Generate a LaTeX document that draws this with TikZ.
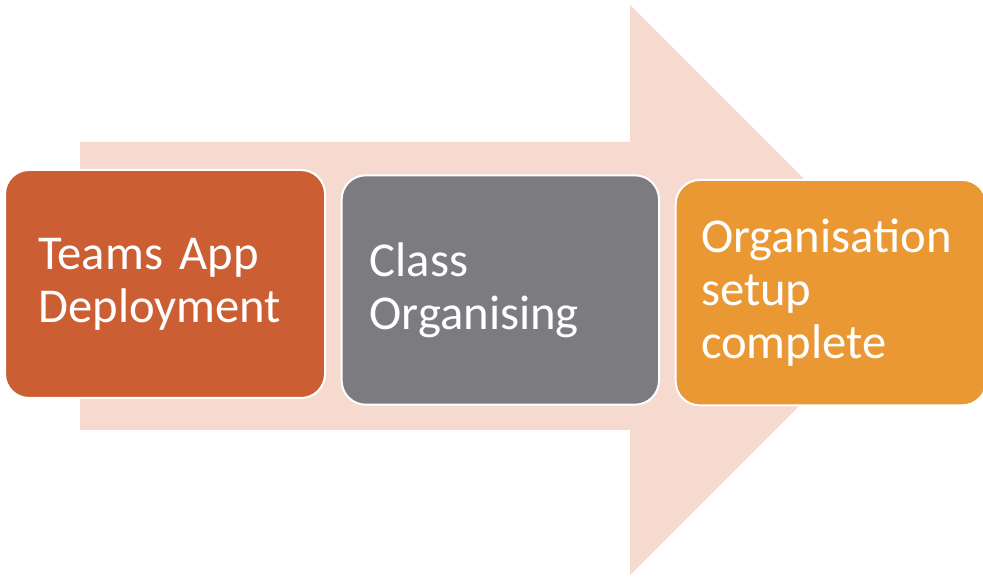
\documentclass[tikz,border=0pt]{standalone}
\usepackage{fontspec}
\setmainfont{Carlito}
\usepackage{xcolor}
\usetikzlibrary{positioning}

\definecolor{arrowpink}{RGB}{246,218,208}
\definecolor{teamsred}{RGB}{204,94,52}
\definecolor{classgray}{RGB}{124,124,128}
\definecolor{setuporange}{RGB}{234,152,52}

\begin{document}
\begin{tikzpicture}[x=0.75pt, y=-0.75pt, every node/.style={align=left, text=white, font=\fontsize{36.5}{40}\selectfont},
        stage/.style={rectangle, rounded corners=18pt, draw=white, line width=1.5pt}]
        \useasboundingbox (0,0) rectangle (983,577);
        % big background arrow
        \fill[arrowpink] (80,142) -- (630,142) -- (630,5) -- (915,290) -- (630,575) -- (630,430) -- (80,430) -- cycle;

        \node (teams) [stage, fill=teamsred, minimum width=240pt, minimum height=171pt, text width=190pt, inner xsep=25pt] at (165,284) {Teams App\\Deployment};
        \node (classorg) [stage, fill=classgray, minimum width=238pt, minimum height=172pt, text width=196pt, inner xsep=21pt, right=11pt of teams, yshift=-4.5pt] {Class\\Organising};
        \node (setup) [stage, fill=setuporange, minimum width=233pt, minimum height=169pt, text width=195pt, inner xsep=19pt, right=11pt of classorg, yshift=-2pt] {Organisation\\setup\\complete};
    \end{tikzpicture}
\end{document}
